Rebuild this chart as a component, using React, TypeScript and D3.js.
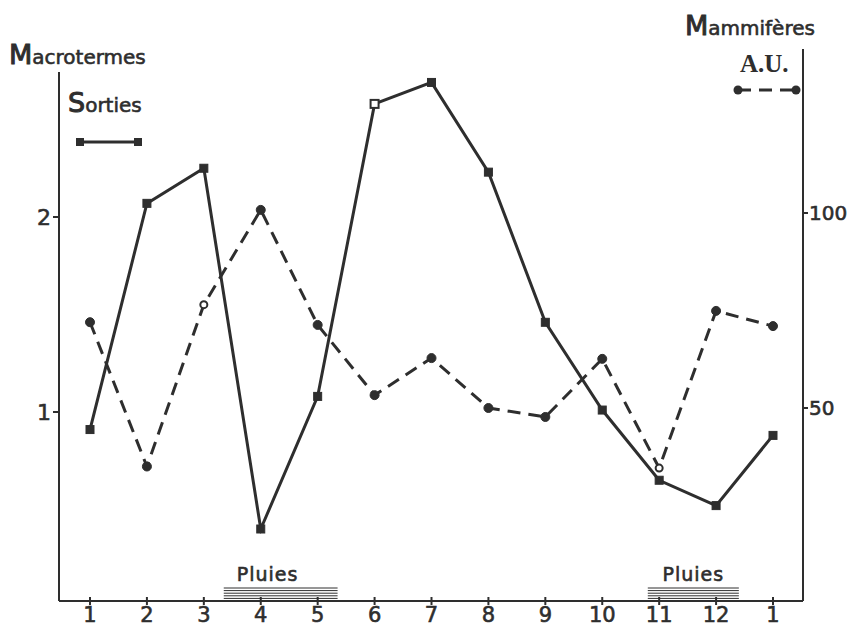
import React from "react";
import * as d3 from "d3";

const months = ["1", "2", "3", "4", "5", "6", "7", "8", "9", "10", "11", "12", "1"];
const sorties = [0.91, 2.07, 2.25, 0.4, 1.08, 2.58, 2.69, 2.23, 1.46, 1.01, 0.65, 0.52, 0.88];
const mammiferes = [72, 35, 76.5, 100.8, 71.3, 53.3, 62.8, 50, 47.7, 62.6, 34.6, 74.9, 71];
const sortiesOpen = [false, false, false, false, false, true, false, false, false, false, false, false, false];
const mammOpen = [false, false, true, false, false, false, false, false, false, false, true, false, false];
const leftTicks = [1, 2];
const rightTicks = [50, 100];
const rainPeriods: [number, number][] = [[3.35, 5.35], [10.8, 12.4]];
const rainLabelAt = [4.12, 11.6];

const INK = "#2e2e2e";
const FONT = "'DejaVu Sans', sans-serif";

export default function App() {
  const x = d3.scaleLinear().domain([0, 12]).range([90, 773]);
  const xm = (m: number) => x(m - 1);
  const yL = d3.scaleLinear().domain([0, 2]).range([607, 217]);
  const yR = d3.scaleLinear().domain([0, 100]).range([603, 213]);
  const axisY = 601;
  const leftX = 59;
  const rightX = 803;

  const lineL = d3.line<number>().x((_, i) => x(i)).y((d) => yL(d));
  const lineR = d3.line<number>().x((_, i) => x(i)).y((d) => yR(d));

  const heavy = { stroke: INK, strokeWidth: 0.6 };

  return (
    <svg
      width={848}
      height={628}
      style={{ position: "absolute", left: 0, top: 0, background: "#fff" }}
      fontFamily={FONT}
    >
      <rect width={848} height={628} fill="#fff" />
      {/* axes */}
      <line x1={leftX} y1={72} x2={leftX} y2={axisY} stroke={INK} strokeWidth={2} />
      <line x1={rightX} y1={49} x2={rightX} y2={axisY} stroke={INK} strokeWidth={2} />
      <line x1={leftX} y1={axisY} x2={rightX} y2={axisY} stroke={INK} strokeWidth={2} />

      {/* x ticks */}
      {months.map((m, i) => (
        <g key={"xt" + i}>
          <line x1={x(i)} x2={x(i)} y1={axisY - 4} y2={axisY + 4} stroke={INK} strokeWidth={2} />
          <text x={x(i)} y={622} textAnchor="middle" fontSize={21} fill={INK} {...heavy}>
            {m}
          </text>
        </g>
      ))}

      {/* left ticks */}
      {leftTicks.map((t) => (
        <g key={"lt" + t}>
          <line x1={leftX - 6} x2={leftX} y1={yL(t)} y2={yL(t)} stroke={INK} strokeWidth={2} />
          <text x={leftX - 8} y={yL(t) + 8} textAnchor="end" fontSize={22} fill={INK} {...heavy}>
            {t}
          </text>
        </g>
      ))}

      {/* right ticks */}
      {rightTicks.map((t) => (
        <g key={"rt" + t}>
          <line x1={rightX} x2={rightX + 5} y1={yR(t)} y2={yR(t)} stroke={INK} strokeWidth={2} />
          <text x={rightX + 6} y={yR(t) + 7} textAnchor="start" fontSize={20} fill={INK} {...heavy}>
            {t}
          </text>
        </g>
      ))}

      {/* rain periods */}
      {rainPeriods.map(([a, b], k) => (
        <g key={"rain" + k}>
          {[0, 1, 2, 3, 4].map((j) => (
            <line
              key={j}
              x1={xm(a)}
              x2={xm(b)}
              y1={588 + j * 2.6}
              y2={588 + j * 2.6}
              stroke={INK}
              strokeWidth={1}
            />
          ))}
          <text
            x={xm(rainLabelAt[k])}
            y={581}
            textAnchor="middle"
            fontSize={19}
            letterSpacing={1}
            fill={INK}
            {...heavy}
          >
            Pluies
          </text>
        </g>
      ))}

      {/* series lines */}
      <path d={lineR(mammiferes) || ""} fill="none" stroke={INK} strokeWidth={3} strokeDasharray="13 8" />
      <path d={lineL(sorties) || ""} fill="none" stroke={INK} strokeWidth={3} />

      {mammiferes.map((v, i) => (
        <circle
          key={"mc" + i}
          cx={x(i)}
          cy={yR(v)}
          r={mammOpen[i] ? 3.5 : 4.5}
          fill={mammOpen[i] ? "#fff" : INK}
          stroke={INK}
          strokeWidth={mammOpen[i] ? 2 : 1}
        />
      ))}
      {sorties.map((v, i) => (
        <rect
          key={"sq" + i}
          x={x(i) - 4}
          y={yL(v) - 4}
          width={8}
          height={8}
          fill={sortiesOpen[i] ? "#fff" : INK}
          stroke={INK}
          strokeWidth={sortiesOpen[i] ? 2 : 1}
        />
      ))}

      {/* left title + legend */}
      <text x={9} y={64} fill={INK} fontSize={20} {...heavy}>
        <tspan fontSize={27} strokeWidth={1}>M</tspan>acrotermes
      </text>
      <text x={68} y={112} fill={INK} fontSize={20} {...heavy}>
        <tspan fontSize={27} strokeWidth={1}>S</tspan>orties
      </text>
      <line x1={80} x2={138} y1={142} y2={142} stroke={INK} strokeWidth={3} />
      <rect x={76} y={138} width={8} height={8} fill={INK} />
      <rect x={134} y={138} width={8} height={8} fill={INK} />

      {/* right title + legend */}
      <text x={685} y={35} fill={INK} fontSize={20} {...heavy}>
        <tspan fontSize={27} strokeWidth={1}>M</tspan>ammifères
      </text>
      <text
        x={740}
        y={72}
        fill={INK}
        fontSize={25}
        fontWeight="bold"
        fontFamily="'Liberation Serif', 'DejaVu Serif', serif"
      >
        A.U.
      </text>
      <line x1={738} x2={796} y1={90} y2={90} stroke={INK} strokeWidth={3} strokeDasharray="13 8" />
      <circle cx={738} cy={90} r={4.5} fill={INK} />
      <circle cx={796} cy={90} r={4.5} fill={INK} />
    </svg>
  );
}
